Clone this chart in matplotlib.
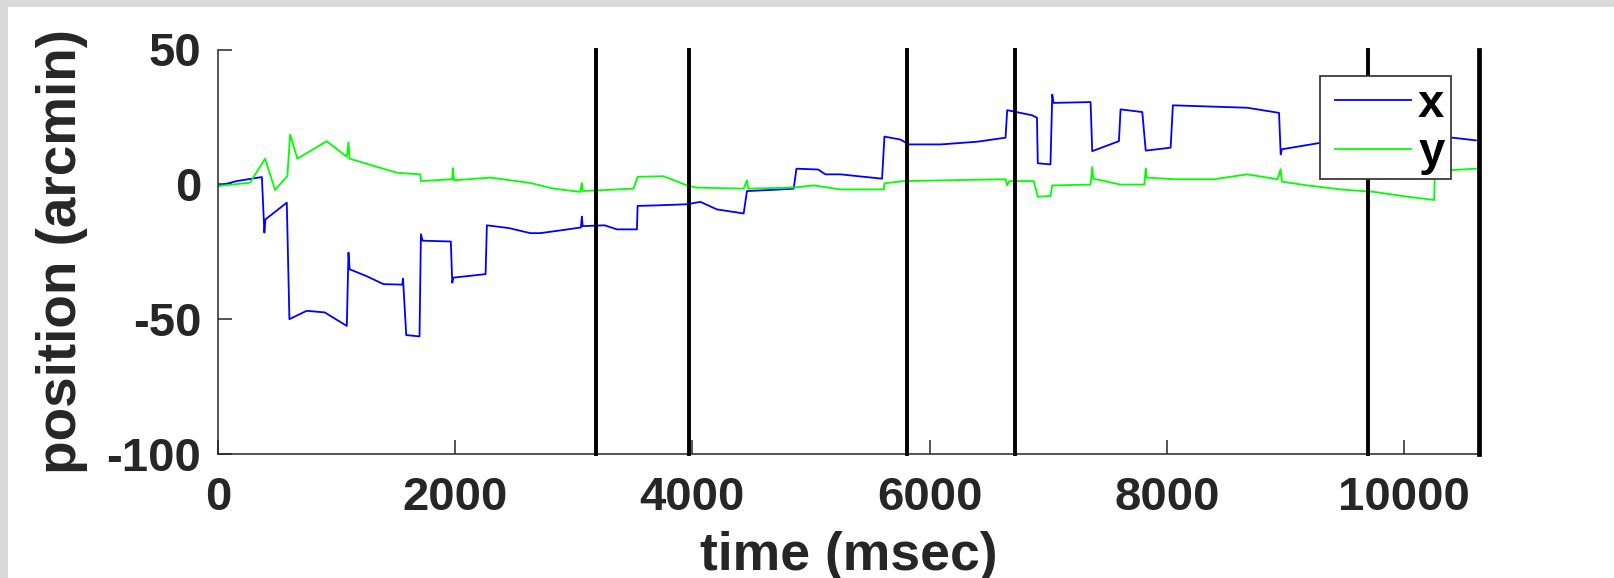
import matplotlib
matplotlib.use("Agg")
import matplotlib.pyplot as plt
from matplotlib.patches import Rectangle

# ---- data ----
x_time = [0, 158, 370, 391, 400, 580, 602, 748, 900, 1086, 1100, 1110, 1250, 1395, 1553, 1560,
          1587, 1699, 1711, 1725, 1963, 1975, 1985, 2256, 2267, 2450, 2633, 2717, 2900, 3060,
          3068, 3075, 3195, 3260, 3364, 3532, 3538, 3700, 3954, 4067, 4207, 4432, 4460, 4700,
          4854, 4877, 5060, 5121, 5248, 5444, 5599, 5619, 5754, 5824, 6093, 6400, 6640, 6654,
          6865, 6905, 6912, 7019, 7034, 7045, 7357, 7371, 7596, 7610, 7793, 7822, 8032, 8051,
          8400, 8679, 8946, 8960, 8970, 9297, 10408, 10605]
x_pos = [-0.6, 1.2, 2.7, -17.9, -13.0, -6.8, -50.0, -46.9, -47.5, -52.5, -25.3, -31.5, -34.0,
         -37.0, -37.2, -35.0, -55.9, -56.4, -18.5, -20.9, -21.2, -36.5, -34.6, -33.3, -15.2,
         -16.2, -18.1, -18.1, -17.0, -16.0, -12.0, -15.5, -15.3, -15.2, -16.7, -16.7, -8.0,
         -7.8, -7.4, -6.5, -9.3, -10.8, -2.5, -2.0, -1.6, 5.8, 5.5, 3.7, 3.7, 2.8, 2.1, 17.7,
         16.6, 14.8, 14.8, 15.8, 17.3, 27.5, 25.6, 24.7, 7.8, 7.4, 33.3, 30.2, 30.5, 12.3, 16.0,
         27.8, 26.8, 12.5, 13.6, 29.3, 28.8, 28.4, 26.5, 11.1, 13.0, 15.4, 17.3, 16.3]

y_time = [0, 270, 397, 481, 585, 608, 669, 917, 1086, 1100, 1110, 1300, 1508, 1705, 1711, 1975,
          1980, 1990, 2300, 2633, 2829, 3054, 3068, 3075, 3504, 3538, 3757, 3954, 4030, 4432,
          4460, 4470, 4854, 5023, 5248, 5614, 5619, 5782, 6640, 6654, 6670, 6878, 6912, 7019,
          7034, 7357, 7371, 7380, 7610, 7810, 7822, 7830, 8060, 8397, 8679, 8932, 8960, 8970,
          9185, 9466, 9747, 10028, 10254, 10260, 10605]
y_pos = [-0.6, 0.6, 9.5, -2.1, 3.1, 18.5, 9.5, 16.0, 10.2, 15.6, 9.5, 7.0, 4.3, 3.7, 1.2, 1.9,
         6.0, 1.5, 2.5, 0.5, -1.6, -2.8, 0.5, -2.5, -1.6, 2.8, 3.0, -0.4, -1.2, -1.6, 1.5, -1.6,
         -1.2, -0.4, -1.9, -1.9, 0.4, 1.2, 1.9, -0.4, 1.2, 1.2, -4.6, -4.3, -0.4, -0.1, 6.4, 2.1,
         -0.1, -0.1, 5.8, 2.5, 1.9, 1.9, 3.7, 1.9, 5.6, 1.0, -0.4, -1.9, -2.8, -4.6, -5.8, 4.9, 5.8]

event_times = [3185, 3975, 5813, 6722, 9700, 10632]

x_ticks = [0, 2000, 4000, 6000, 8000, 10000]
y_ticks = [-100, -50, 0, 50]
series_labels = ["x", "y"]

# ---- figure ----
TXT = "#262626"
plt.rcParams["font.family"] = ["Liberation Sans", "DejaVu Sans"]
plt.rcParams["font.weight"] = "bold"
plt.rcParams["axes.unicode_minus"] = False

fig = plt.figure(figsize=(16.14, 5.78), dpi=100)
fig.patches.append(Rectangle((0, 0), 8 / 1614, 1, transform=fig.transFigure,
                             facecolor="#d9d9d9", edgecolor="none", zorder=0))
fig.patches.append(Rectangle((0, 1 - 7 / 578), 1, 7 / 578, transform=fig.transFigure,
                             facecolor="#d9d9d9", edgecolor="none", zorder=0))

ax = fig.add_axes([218 / 1614, 1 - 454 / 578, 1261 / 1614, 404.5 / 578])
ax.set_facecolor("white")

lx, = ax.plot(x_time, x_pos, color=(0, 0, 1), lw=1.3, label=series_labels[0])
ly, = ax.plot(y_time, y_pos, color=(0, 1, 0), lw=1.3, label=series_labels[1])
for i, t in enumerate(event_times):
    ax.axvline(t, color="black", lw=2.8 if i < len(event_times) - 1 else 3.4,
               clip_on=False, zorder=3)

ax.set_xlim(0, 10632)
ax.set_ylim(-100, 50)
ax.set_xticks(x_ticks)
ax.set_yticks(y_ticks)

for s in ["top", "right"]:
    ax.spines[s].set_visible(False)
for s in ["left", "bottom"]:
    ax.spines[s].set_color(TXT)
    ax.spines[s].set_linewidth(1.1)

ax.tick_params(axis="both", direction="in", length=10, width=1.1, color=TXT,
               labelcolor=TXT, labelsize=34)
ax.tick_params(axis="x", pad=15.5)
ax.tick_params(axis="y", pad=12)
for lab in ax.get_xticklabels() + ax.get_yticklabels():
    lab.set_fontweight("bold")

ax.set_xlabel("time (msec)", fontsize=38.5, fontweight="bold", color=TXT, va="top")
ax.xaxis.set_label_coords(0.5, -0.19)
ax.set_ylabel("position (arcmin)", fontsize=39.5, fontweight="bold", color=TXT)
ax.yaxis.set_label_coords(-0.103, 0.5)

# legend box (frame drawn separately so that its padding matches the reference)
box_x0, box_x1, box_y0, box_y1 = 0.8739, 0.978, 0.6799, 0.9345
ax.add_patch(Rectangle((box_x0, box_y0), box_x1 - box_x0, box_y1 - box_y0,
                       transform=ax.transAxes, facecolor="white", edgecolor="#3a3a3a",
                       lw=1.3, zorder=4, clip_on=False))
leg = ax.legend(handles=[lx, ly], loc="upper left", bbox_to_anchor=(0.8858, 0.918),
                borderaxespad=0, handlelength=1.61, handletextpad=0.15,
                labelspacing=0.1, borderpad=0.0, frameon=False,
                prop={"weight": "bold", "size": 34})
leg.set_zorder(5)
for line in leg.get_lines():
    line.set_linewidth(1.3)
for t in leg.get_texts():
    t.set_color("black")

fig.savefig("out.png", dpi=100, facecolor="white")
